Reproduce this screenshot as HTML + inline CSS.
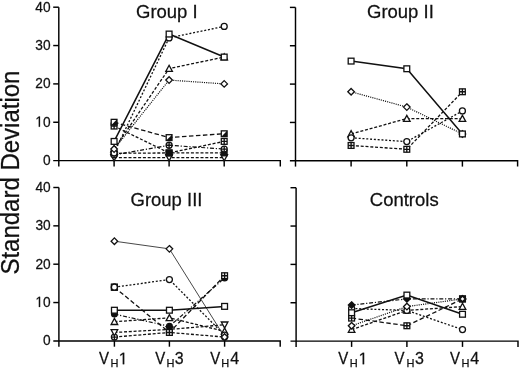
<!DOCTYPE html>
<html><head><meta charset="utf-8"><style>
html,body{margin:0;padding:0;background:#fff;overflow:hidden;}
svg{display:block;filter:grayscale(1);}
text{font-family:"Liberation Sans",sans-serif;fill:#111;stroke:#111;stroke-width:0.25px;}
.ax{stroke:#000;stroke-width:1.45;fill:none;}
.tl{font-size:14px;text-anchor:end;}
.tt{font-size:18.5px;}
.xv{font-size:15px;}
.xd{font-size:16px;}
.xh{font-size:11px;}
.yt{font-size:24px;}
.mk{fill:#fff;stroke:#111;stroke-width:1.3;}
.mkf{fill:#111;stroke:#111;stroke-width:1.2;}
.mk2{fill:none;stroke:#111;stroke-width:1.35;}
</style></head><body>
<svg width="520" height="369" viewBox="0 0 520 369">
<path d="M58.8,7.20 V166.40" class="ax"/>
<path d="M53.199999999999996,160.6 H280.3 V166.40" class="ax"/>
<path d="M114.1,160.6 V166.40" class="ax"/>
<path d="M169.1,160.6 V166.40" class="ax"/>
<path d="M224.2,160.6 V166.40" class="ax"/>
<path d="M53.199999999999996,122.25 H58.8" class="ax"/>
<path d="M53.199999999999996,83.90 H58.8" class="ax"/>
<path d="M53.199999999999996,45.55 H58.8" class="ax"/>
<path d="M53.199999999999996,7.20 H58.8" class="ax"/>
<text transform="translate(50.60,165.00) scale(0.98,1.05)" class="tl">0</text>
<text transform="translate(50.60,126.65) scale(0.98,1.05)" class="tl">0</text><path transform="translate(35.34,126.65) scale(0.00670,-0.00718)" d="M515,0 L515,1237 L197,1010 L197,1180 L530,1409 L696,1409 L696,0 Z" fill="#111" stroke="#111" stroke-width="36.6"/>
<text transform="translate(50.60,88.30) scale(0.98,1.05)" class="tl">20</text>
<text transform="translate(50.60,49.95) scale(0.98,1.05)" class="tl">30</text>
<text transform="translate(50.60,11.60) scale(0.98,1.05)" class="tl">40</text>
<path d="M295.5,7.40 V166.60" class="ax"/>
<path d="M289.9,160.8 H517.6 V166.60" class="ax"/>
<path d="M351.1,160.8 V166.60" class="ax"/>
<path d="M406.8,160.8 V166.60" class="ax"/>
<path d="M462.4,160.8 V166.60" class="ax"/>
<path d="M289.9,122.45 H295.5" class="ax"/>
<path d="M289.9,84.10 H295.5" class="ax"/>
<path d="M289.9,45.75 H295.5" class="ax"/>
<path d="M289.9,7.40 H295.5" class="ax"/>
<path d="M58.9,187.50 V346.70" class="ax"/>
<path d="M53.3,340.9 H280.2 V346.70" class="ax"/>
<path d="M114.4,340.9 V346.70" class="ax"/>
<path d="M169.4,340.9 V346.70" class="ax"/>
<path d="M224.6,340.9 V346.70" class="ax"/>
<path d="M53.3,302.55 H58.9" class="ax"/>
<path d="M53.3,264.20 H58.9" class="ax"/>
<path d="M53.3,225.85 H58.9" class="ax"/>
<path d="M53.3,187.50 H58.9" class="ax"/>
<text transform="translate(50.70,345.30) scale(0.98,1.05)" class="tl">0</text>
<text transform="translate(50.70,306.95) scale(0.98,1.05)" class="tl">0</text><path transform="translate(35.44,306.95) scale(0.00670,-0.00718)" d="M515,0 L515,1237 L197,1010 L197,1180 L530,1409 L696,1409 L696,0 Z" fill="#111" stroke="#111" stroke-width="36.6"/>
<text transform="translate(50.70,268.60) scale(0.98,1.05)" class="tl">20</text>
<text transform="translate(50.70,230.25) scale(0.98,1.05)" class="tl">30</text>
<text transform="translate(50.70,191.90) scale(0.98,1.05)" class="tl">40</text>
<path d="M296.1,187.70 V346.90" class="ax"/>
<path d="M290.5,341.1 H518.0 V346.90" class="ax"/>
<path d="M351.6,341.1 V346.90" class="ax"/>
<path d="M406.9,341.1 V346.90" class="ax"/>
<path d="M462.5,341.1 V346.90" class="ax"/>
<path d="M290.5,302.75 H296.1" class="ax"/>
<path d="M290.5,264.40 H296.1" class="ax"/>
<path d="M290.5,226.05 H296.1" class="ax"/>
<path d="M290.5,187.70 H296.1" class="ax"/>
<path d="M114.10,157.53 L169.10,157.53 L224.20,157.53" fill="none" stroke="#111" stroke-width="1.3" stroke-dasharray="3 1.8"/>
<path d="M114.10,126.08 L169.10,152.93 L224.20,141.42" fill="none" stroke="#111" stroke-width="1.3" stroke-dasharray="3 1.8"/>
<path d="M114.10,153.31 L169.10,152.93 L224.20,152.93" fill="none" stroke="#111" stroke-width="1.3" stroke-dasharray="3 1.8"/>
<path d="M114.10,154.85 L169.10,145.26 L224.20,149.09" fill="none" stroke="#111" stroke-width="1.2" stroke-dasharray="4 1.8 1.2 1.8"/>
<path d="M114.10,122.25 L169.10,137.59 L224.20,133.75" fill="none" stroke="#111" stroke-width="1.3" stroke-dasharray="4.5 2.5"/>
<path d="M114.10,149.09 L169.10,68.56 L224.20,57.05" fill="none" stroke="#111" stroke-width="1.3" stroke-dasharray="3 1.8"/>
<path d="M114.10,152.93 L169.10,37.88 L224.20,26.38" fill="none" stroke="#111" stroke-width="1.3" stroke-dasharray="2 1.8"/>
<path d="M114.10,149.09 L169.10,80.06 L224.20,83.90" fill="none" stroke="#111" stroke-width="1.2" stroke-dasharray="1.1 1.1"/>
<path d="M114.10,141.42 L169.10,34.05 L224.20,57.05" fill="none" stroke="#111" stroke-width="1.5"/>
<path d="M114.10,160.83 L117.40,154.73 L110.80,154.73Z" class="mk"/>
<path d="M169.10,160.83 L172.40,154.73 L165.80,154.73Z" class="mk"/>
<path d="M224.20,160.83 L227.50,154.73 L220.90,154.73Z" class="mk"/>
<rect x="111.20" y="123.18" width="5.8" height="5.8" class="mk"/><path d="M114.10,123.18 V128.98 M111.20,126.08 H117.00" class="mk2"/>
<rect x="166.20" y="150.03" width="5.8" height="5.8" class="mk"/><path d="M169.10,150.03 V155.83 M166.20,152.93 H172.00" class="mk2"/>
<rect x="221.30" y="138.52" width="5.8" height="5.8" class="mk"/><path d="M224.20,138.52 V144.32 M221.30,141.42 H227.10" class="mk2"/>
<rect x="111.20" y="150.41" width="5.8" height="5.8" class="mkf"/>
<rect x="166.20" y="150.03" width="5.8" height="5.8" class="mkf"/>
<rect x="221.30" y="150.03" width="5.8" height="5.8" class="mkf"/>
<circle cx="114.10" cy="154.85" r="3.0" class="mk"/><path d="M114.10,151.95 V157.75 M111.20,154.85 H117.00" class="mk2"/>
<circle cx="169.10" cy="145.26" r="3.0" class="mk"/><path d="M169.10,142.36 V148.16 M166.20,145.26 H172.00" class="mk2"/>
<circle cx="224.20" cy="149.09" r="3.0" class="mk"/><path d="M224.20,146.19 V152.00 M221.30,149.09 H227.10" class="mk2"/>
<rect x="111.20" y="119.35" width="5.8" height="5.8" class="mk"/><path d="M117.00,119.35 L117.00,125.15 L111.20,125.15Z" fill="#111"/>
<rect x="166.20" y="134.69" width="5.8" height="5.8" class="mk"/><path d="M172.00,134.69 L172.00,140.49 L166.20,140.49Z" fill="#111"/>
<rect x="221.30" y="130.85" width="5.8" height="5.8" class="mk"/><path d="M227.10,130.85 L227.10,136.66 L221.30,136.66Z" fill="#111"/>
<path d="M114.10,145.79 L117.40,151.90 L110.80,151.90Z" class="mk"/>
<path d="M169.10,65.26 L172.40,71.36 L165.80,71.36Z" class="mk"/>
<path d="M224.20,53.75 L227.50,59.85 L220.90,59.85Z" class="mk"/>
<circle cx="114.10" cy="152.93" r="3.0" class="mk"/>
<circle cx="169.10" cy="37.88" r="3.0" class="mk"/>
<circle cx="224.20" cy="26.38" r="3.0" class="mk"/>
<path d="M114.10,145.79 L117.40,149.09 L114.10,152.40 L110.80,149.09Z" class="mk"/>
<path d="M169.10,76.77 L172.40,80.06 L169.10,83.36 L165.80,80.06Z" class="mk"/>
<path d="M224.20,80.60 L227.50,83.90 L224.20,87.20 L220.90,83.90Z" class="mk"/>
<rect x="111.20" y="138.52" width="5.8" height="5.8" class="mk"/>
<rect x="166.20" y="31.15" width="5.8" height="5.8" class="mk"/>
<rect x="221.30" y="54.15" width="5.8" height="5.8" class="mk"/>
<path d="M351.10,145.46 L406.80,149.30 L462.40,91.77" fill="none" stroke="#111" stroke-width="1.3" stroke-dasharray="3 1.8"/>
<path d="M351.10,133.96 L406.80,118.62 L462.40,118.62" fill="none" stroke="#111" stroke-width="1.3" stroke-dasharray="3 1.8"/>
<path d="M351.10,137.79 L406.80,141.62 L462.40,110.95" fill="none" stroke="#111" stroke-width="1.3" stroke-dasharray="2 1.8"/>
<path d="M351.10,91.77 L406.80,107.11 L462.40,133.96" fill="none" stroke="#111" stroke-width="1.2" stroke-dasharray="1.1 1.1"/>
<path d="M351.10,61.09 L406.80,68.76 L462.40,133.96" fill="none" stroke="#111" stroke-width="1.5"/>
<rect x="348.20" y="142.56" width="5.8" height="5.8" class="mk"/><path d="M351.10,142.56 V148.36 M348.20,145.46 H354.00" class="mk2"/>
<rect x="403.90" y="146.40" width="5.8" height="5.8" class="mk"/><path d="M406.80,146.40 V152.20 M403.90,149.30 H409.70" class="mk2"/>
<rect x="459.50" y="88.87" width="5.8" height="5.8" class="mk"/><path d="M462.40,88.87 V94.67 M459.50,91.77 H465.30" class="mk2"/>
<path d="M351.10,130.66 L354.40,136.76 L347.80,136.76Z" class="mk"/>
<path d="M406.80,115.32 L410.10,121.42 L403.50,121.42Z" class="mk"/>
<path d="M462.40,115.32 L465.70,121.42 L459.10,121.42Z" class="mk"/>
<circle cx="351.10" cy="137.79" r="3.0" class="mk"/>
<circle cx="406.80" cy="141.62" r="3.0" class="mk"/>
<circle cx="462.40" cy="110.95" r="3.0" class="mk"/>
<path d="M351.10,88.47 L354.40,91.77 L351.10,95.07 L347.80,91.77Z" class="mk"/>
<path d="M406.80,103.81 L410.10,107.11 L406.80,110.41 L403.50,107.11Z" class="mk"/>
<path d="M462.40,130.66 L465.70,133.96 L462.40,137.26 L459.10,133.96Z" class="mk"/>
<rect x="348.20" y="58.19" width="5.8" height="5.8" class="mk"/>
<rect x="403.90" y="65.86" width="5.8" height="5.8" class="mk"/>
<rect x="459.50" y="131.06" width="5.8" height="5.8" class="mk"/>
<path d="M114.40,337.06 L169.40,332.46 L224.60,337.06" fill="none" stroke="#111" stroke-width="1.3" stroke-dasharray="3 1.8"/>
<path d="M114.40,332.46 L169.40,329.39 L224.60,324.79" fill="none" stroke="#111" stroke-width="1.3" stroke-dasharray="3 1.8"/>
<path d="M114.40,321.72 L169.40,317.89 L224.60,331.31" fill="none" stroke="#111" stroke-width="1.3" stroke-dasharray="3 1.8"/>
<path d="M114.40,314.05 L169.40,326.33 L224.60,278.01" fill="none" stroke="#111" stroke-width="1.2" stroke-dasharray="4 1.8 1.2 1.8"/>
<path d="M114.40,287.21 L169.40,332.46 L224.60,275.70" fill="none" stroke="#111" stroke-width="1.3" stroke-dasharray="4.5 2.5"/>
<path d="M114.40,287.21 L169.40,279.54 L224.60,335.15" fill="none" stroke="#111" stroke-width="1.3" stroke-dasharray="2 1.8"/>
<path d="M114.40,241.19 L169.40,248.86 L224.60,337.06" fill="none" stroke="#333" stroke-width="0.9"/>
<path d="M114.40,310.22 L169.40,310.22 L224.60,306.38" fill="none" stroke="#111" stroke-width="1.5"/>
<circle cx="114.40" cy="337.06" r="3.0" class="mk"/><path d="M114.40,334.17 V339.96 M111.50,337.06 H117.30" class="mk2"/>
<circle cx="169.40" cy="332.46" r="3.0" class="mk"/><path d="M169.40,329.56 V335.36 M166.50,332.46 H172.30" class="mk2"/>
<circle cx="224.60" cy="337.06" r="3.0" class="mk"/><path d="M224.60,334.17 V339.96 M221.70,337.06 H227.50" class="mk2"/>
<path d="M114.40,335.76 L117.70,329.66 L111.10,329.66Z" class="mk"/>
<path d="M169.40,332.69 L172.70,326.59 L166.10,326.59Z" class="mk"/>
<path d="M224.60,328.09 L227.90,321.99 L221.30,321.99Z" class="mk"/>
<path d="M114.40,318.42 L117.70,324.52 L111.10,324.52Z" class="mk"/>
<path d="M169.40,314.59 L172.70,320.69 L166.10,320.69Z" class="mk"/>
<path d="M224.60,328.01 L227.90,334.11 L221.30,334.11Z" class="mk"/>
<circle cx="114.40" cy="314.05" r="2.9" class="mkf"/>
<circle cx="169.40" cy="326.33" r="2.9" class="mkf"/>
<circle cx="224.60" cy="278.01" r="2.9" class="mkf"/>
<rect x="111.50" y="284.31" width="5.8" height="5.8" class="mk"/><path d="M114.40,284.31 V290.11 M111.50,287.21 H117.30" class="mk2"/>
<rect x="166.50" y="329.56" width="5.8" height="5.8" class="mk"/><path d="M169.40,329.56 V335.36 M166.50,332.46 H172.30" class="mk2"/>
<rect x="221.70" y="272.81" width="5.8" height="5.8" class="mk"/><path d="M224.60,272.81 V278.60 M221.70,275.70 H227.50" class="mk2"/>
<circle cx="114.40" cy="287.21" r="3.0" class="mk"/>
<circle cx="169.40" cy="279.54" r="3.0" class="mk"/>
<circle cx="224.60" cy="335.15" r="3.0" class="mk"/>
<path d="M114.40,237.89 L117.70,241.19 L114.40,244.49 L111.10,241.19Z" class="mk"/>
<path d="M169.40,245.56 L172.70,248.86 L169.40,252.16 L166.10,248.86Z" class="mk"/>
<path d="M224.60,333.76 L227.90,337.06 L224.60,340.37 L221.30,337.06Z" class="mk"/>
<rect x="111.50" y="307.32" width="5.8" height="5.8" class="mk"/>
<rect x="166.50" y="307.32" width="5.8" height="5.8" class="mk"/>
<rect x="221.70" y="303.49" width="5.8" height="5.8" class="mk"/>
<rect x="111.50" y="284.31" width="5.8" height="5.8" class="mk"/>
<circle cx="114.40" cy="287.21" r="3.0" class="mk"/>
<path d="M351.60,329.60 L406.90,310.42 L462.50,306.59" fill="none" stroke="#111" stroke-width="1.3" stroke-dasharray="3 1.8"/>
<path d="M351.60,308.50 L406.90,310.42 L462.50,329.60" fill="none" stroke="#111" stroke-width="1.3" stroke-dasharray="2 1.8"/>
<path d="M351.60,325.76 L406.90,306.59 L462.50,298.92" fill="none" stroke="#111" stroke-width="1.2" stroke-dasharray="1.1 1.1"/>
<path d="M351.60,318.09 L406.90,325.76 L462.50,298.92" fill="none" stroke="#111" stroke-width="1.3" stroke-dasharray="4.5 2.5"/>
<path d="M351.60,305.05 L406.90,298.92 L462.50,298.92" fill="none" stroke="#111" stroke-width="1.2" stroke-dasharray="4 1.8 1.2 1.8"/>
<path d="M351.60,312.72 L406.90,295.08 L462.50,314.25" fill="none" stroke="#111" stroke-width="1.5"/>
<path d="M351.60,326.30 L354.90,332.40 L348.30,332.40Z" class="mk"/>
<path d="M406.90,307.12 L410.20,313.22 L403.60,313.22Z" class="mk"/>
<path d="M462.50,303.29 L465.80,309.39 L459.20,309.39Z" class="mk"/>
<circle cx="351.60" cy="308.50" r="3.0" class="mk"/>
<circle cx="406.90" cy="310.42" r="3.0" class="mk"/>
<circle cx="462.50" cy="329.60" r="3.0" class="mk"/>
<path d="M351.60,322.46 L354.90,325.76 L351.60,329.06 L348.30,325.76Z" class="mk"/>
<path d="M406.90,303.29 L410.20,306.59 L406.90,309.89 L403.60,306.59Z" class="mk"/>
<path d="M462.50,295.62 L465.80,298.92 L462.50,302.22 L459.20,298.92Z" class="mk"/>
<rect x="348.70" y="315.19" width="5.8" height="5.8" class="mk"/><path d="M351.60,315.19 V320.99 M348.70,318.09 H354.50" class="mk2"/>
<rect x="404.00" y="322.86" width="5.8" height="5.8" class="mk"/><path d="M406.90,322.86 V328.66 M404.00,325.76 H409.80" class="mk2"/>
<rect x="459.60" y="296.02" width="5.8" height="5.8" class="mk"/><path d="M462.50,296.02 V301.81 M459.60,298.92 H465.40" class="mk2"/>
<path d="M351.60,301.75 L354.90,305.05 L351.60,308.35 L348.30,305.05Z" class="mkf"/>
<path d="M406.90,295.62 L410.20,298.92 L406.90,302.22 L403.60,298.92Z" class="mkf"/>
<path d="M462.50,295.62 L465.80,298.92 L462.50,302.22 L459.20,298.92Z" class="mkf"/>
<rect x="348.70" y="309.82" width="5.8" height="5.8" class="mk"/>
<rect x="404.00" y="292.18" width="5.8" height="5.8" class="mk"/>
<rect x="459.60" y="311.36" width="5.8" height="5.8" class="mk"/>
<rect x="459.60" y="296.02" width="5.8" height="5.8" class="mkf"/><path d="M462.50,297.12 L464.30,298.92 L462.50,300.72 L460.70,298.92Z" fill="#fff"/>
<text transform="translate(136.0,18.4) scale(1,1.04)" class="tt">Group I</text>
<text transform="translate(367.0,18.4) scale(1,1.04)" class="tt">Group II</text>
<text transform="translate(130.5,206.4) scale(1,1.04)" class="tt">Group III</text>
<text transform="translate(369.8,206.3) scale(1,1.04)" class="tt">Controls</text>
<text transform="translate(99.03,364.2) scale(1,1.07)" class="xv">V</text>
<text transform="translate(110.50,367.2)" class="xh">H</text>
<path transform="translate(118.78,364.20) scale(0.00781,-0.00813)" d="M515,0 L515,1237 L197,1010 L197,1180 L530,1409 L696,1409 L696,0 Z" fill="#111" stroke="#111" stroke-width="32.0"/>
<text transform="translate(155.13,364.2) scale(1,1.07)" class="xv">V</text>
<text transform="translate(166.50,367.2)" class="xh">H</text>
<text transform="translate(174.69,364.2) scale(1,1.04)" class="xd">3</text>
<text transform="translate(210.13,364.2) scale(1,1.07)" class="xv">V</text>
<text transform="translate(221.30,367.2)" class="xh">H</text>
<text transform="translate(230.33,364.2) scale(1,1.04)" class="xd">4</text>
<text transform="translate(338.23,364.2) scale(1,1.07)" class="xv">V</text>
<text transform="translate(349.80,367.2)" class="xh">H</text>
<path transform="translate(358.68,364.20) scale(0.00781,-0.00813)" d="M515,0 L515,1237 L197,1010 L197,1180 L530,1409 L696,1409 L696,0 Z" fill="#111" stroke="#111" stroke-width="32.0"/>
<text transform="translate(394.53,364.2) scale(1,1.07)" class="xv">V</text>
<text transform="translate(406.40,367.2)" class="xh">H</text>
<text transform="translate(414.89,364.2) scale(1,1.04)" class="xd">3</text>
<text transform="translate(449.93,364.2) scale(1,1.07)" class="xv">V</text>
<text transform="translate(461.40,367.2)" class="xh">H</text>
<text transform="translate(470.13,364.2) scale(1,1.04)" class="xd">4</text>
<text transform="translate(18.8,274.6) rotate(-90) scale(1,1.04)" class="yt">Standard Deviation</text>
</svg>
</body></html>
